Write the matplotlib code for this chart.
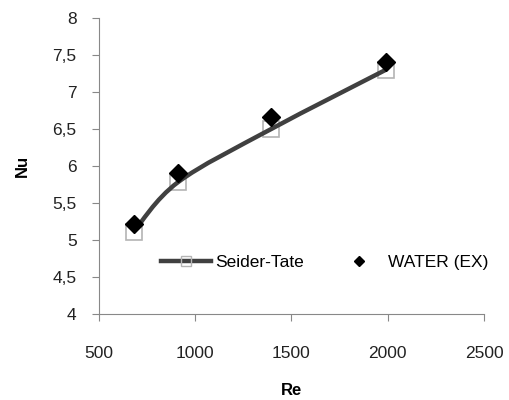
import matplotlib
matplotlib.use("Agg")
import matplotlib.pyplot as plt
from matplotlib.path import Path
from matplotlib.patches import PathPatch

plt.rcParams["font.family"] = ["Liberation Sans", "DejaVu Sans"]

# data
re_vals = [680, 910, 1395, 1990]
nu_seider_tate = [5.11, 5.78, 6.50, 7.30]
nu_water_ex = [5.21, 5.91, 6.66, 7.41]
y_ticks = [4, 4.5, 5, 5.5, 6, 6.5, 7, 7.5, 8]
y_labels = ["4", "4,5", "5", "5,5", "6", "6,5", "7", "7,5", "8"]
x_ticks = [500, 1000, 1500, 2000, 2500]


# smoothed line like the spreadsheet one (bezier through the points)
def smooth_path(xs, ys):
    pts = list(zip(xs, ys))
    verts = [pts[0]]
    codes = [Path.MOVETO]
    for i in range(len(pts) - 1):
        p0 = pts[i - 1] if i > 0 else pts[i]
        p1 = pts[i]
        p2 = pts[i + 1]
        p3 = pts[i + 2] if i + 2 < len(pts) else pts[i + 1]
        c1 = (p1[0] + (p2[0] - p0[0]) / 6, p1[1] + (p2[1] - p0[1]) / 6)
        c2 = (p2[0] - (p3[0] - p1[0]) / 6, p2[1] - (p3[1] - p1[1]) / 6)
        verts += [c1, c2, p2]
        codes += [Path.CURVE4] * 3
    return Path(verts, codes)


fig = plt.figure(figsize=(5.1, 4.0), dpi=100)
ax = fig.add_axes([0.194, 0.215, 0.755, 0.74])

line_color = "#404040"
ax.add_patch(PathPatch(smooth_path(re_vals, nu_seider_tate), facecolor="none",
                       edgecolor=line_color, lw=3.2, zorder=2))
ax.plot(re_vals, nu_seider_tate, ls="none", marker="s", ms=12,
        mfc="none", mec="#b4b4b4", mew=1.2, zorder=1)
ax.plot(re_vals, nu_water_ex, ls="none", marker="D", ms=9.5,
        color="black", zorder=3)

# legend handles
h1, = ax.plot([], [], color=line_color, lw=3.2, marker="s", ms=7,
              mfc="none", mec="#b4b4b4", mew=1)
h2, = ax.plot([], [], ls="none", marker="D", ms=5.5, color="black")
ax.legend([h1, h2], ["Seider-Tate", "WATER (EX)"], ncol=2, frameon=False,
          loc="center left", bbox_to_anchor=(0.16, 0.175), fontsize=12.5,
          handlelength=2.9, columnspacing=1.7, handletextpad=0.25,
          borderpad=0, borderaxespad=0)

ax.set_xlim(500, 2500)
ax.set_ylim(4, 8)
ax.set_xticks(x_ticks)
ax.set_yticks(y_ticks)
ax.set_yticklabels(y_labels)

for side in ["top", "right"]:
    ax.spines[side].set_visible(False)
for side in ["left", "bottom"]:
    ax.spines[side].set_color("#888888")
ax.tick_params(axis="both", colors="#888888", labelcolor="#222222",
               labelsize=12.5, length=5, direction="out")
ax.tick_params(axis="x", pad=18)
ax.tick_params(axis="y", pad=11)

ax.set_xlabel("Re", fontsize=12, fontweight="bold", labelpad=16)
ax.set_ylabel("Nu", fontsize=12, fontweight="bold", labelpad=16)

plt.savefig("out.png", dpi=100)
